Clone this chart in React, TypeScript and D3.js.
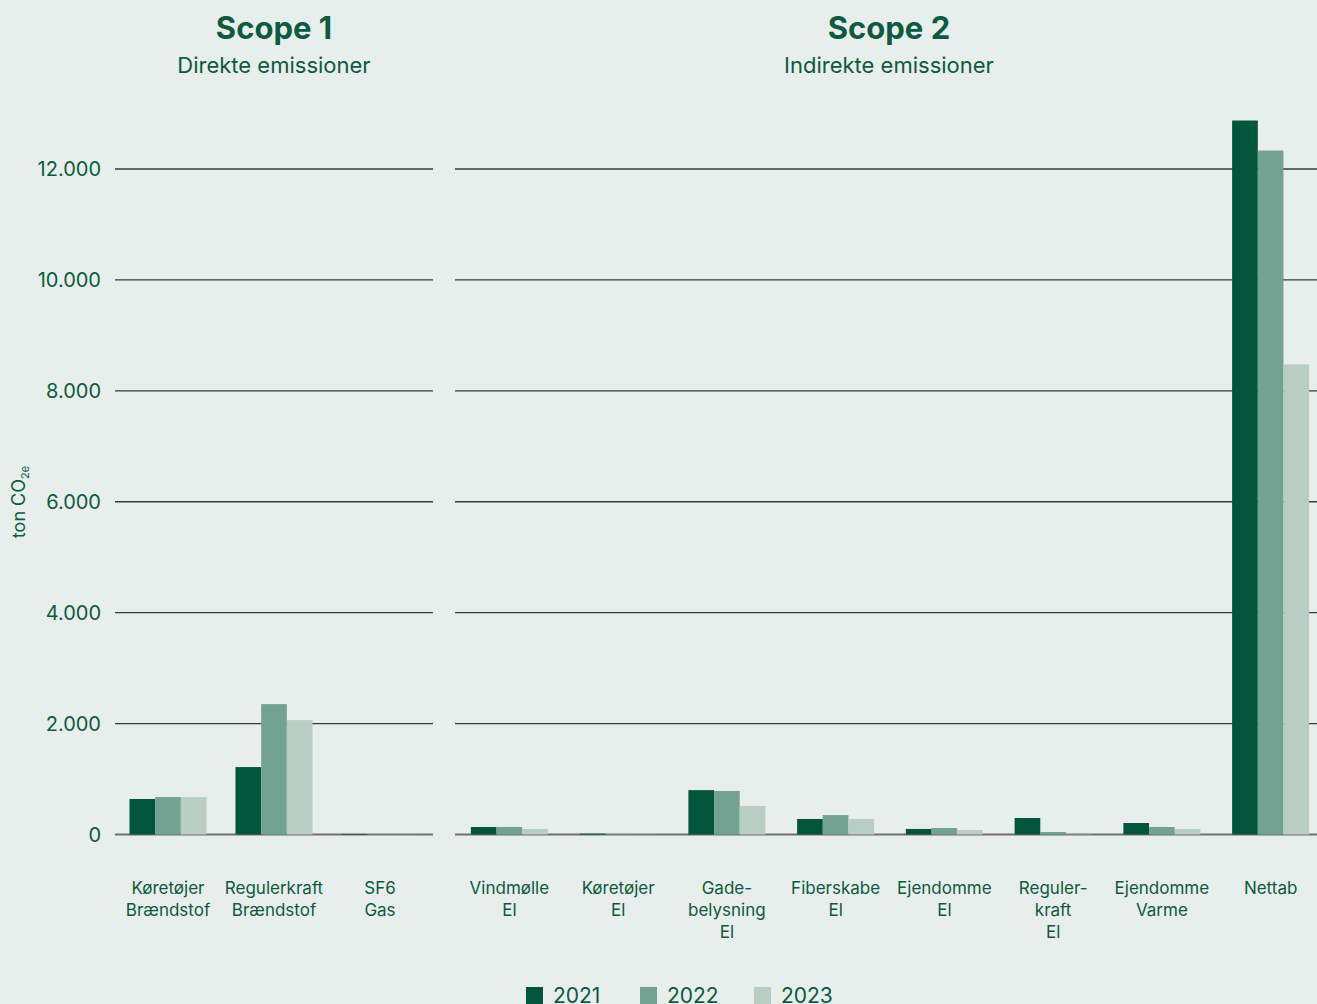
import React from "react";
import * as d3 from "d3";

const years = ["2021", "2022", "2023"];
const scope1Categories = ["Køretøjer|Brændstof", "Regulerkraft|Brændstof", "SF6|Gas"];
const scope1_2021 = [640, 1216, 10];
const scope1_2022 = [675, 2351, 5];
const scope1_2023 = [675, 2063, 2];

const scope2Categories = [
  "Vindmølle|El",
  "Køretøjer|El",
  "Gade-|belysning|El",
  "Fiberskabe|El",
  "Ejendomme|El",
  "Reguler-|kraft|El",
  "Ejendomme|Varme",
  "Nettab",
];
const scope2_2021 = [135, 15, 800, 280, 100, 297, 207, 12874];
const scope2_2022 = [135, 8, 785, 350, 117, 45, 135, 12333];
const scope2_2023 = [100, 3, 515, 280, 80, 5, 100, 8477];

const yTicks = [0, 2000, 4000, 6000, 8000, 10000, 12000];

const W = 1317;
const H = 1004;
const BG = "#E8EEEB";
const TEXT = "#0B5B40";
const colors = ["#00553B", "#72A291", "#B8CEC5"];
const FONT = "Inter, 'Open Sans', sans-serif";

const fmt = d3.formatLocale({ decimal: ",", thousands: ".", grouping: [3], currency: ["", ""] }).format(",d");

const y = d3.scaleLinear().domain([0, 12000]).range([834.5, 169]);

function Panel({ cats, series, range, gridRange }: { cats: string[]; series: number[][]; range: [number, number]; gridRange: [number, number] }) {
  const x0 = d3.scaleBand().domain(cats).range(range).padding(0);
  const bw = x0.bandwidth();
  const groupW = 77;
  const x1 = d3.scaleBand().domain(years).range([(bw - groupW) / 2, (bw + groupW) / 2]).padding(0);
  return (
    <g>
      {yTicks.map((t) => (
        <line key={t} x1={gridRange[0]} x2={gridRange[1]} y1={y(t)} y2={y(t)} stroke={t === 0 ? "#6f6f6f" : "#3a3a3a"} strokeWidth={t === 0 ? 2 : 1.4} />
      ))}
      {cats.map((c, i) => (
        <g key={c} transform={`translate(${x0(c)},0)`}>
          {years.map((yr, j) => {
            const v = series[j][i];
            return <rect key={yr} x={x1(yr)} width={x1.bandwidth()} y={y(v)} height={y(0) - y(v)} fill={colors[j]} />;
          })}
          <text x={bw / 2} y={894} textAnchor="middle" fill={TEXT} fontSize={17} fontFamily={FONT}>
            {c.split("|").map((ln, k) => (
              <tspan key={k} x={bw / 2} dy={k === 0 ? 0 : 22}>
                {ln}
              </tspan>
            ))}
          </text>
        </g>
      ))}
    </g>
  );
}

export default function App() {
  return (
    <div style={{ position: "fixed", left: 0, top: 0, width: W, height: H, background: BG }}>
      <svg width={W} height={H} style={{ display: "block" }}>
        <rect width={W} height={H} fill={BG} />
        <text x={274} y={39} textAnchor="middle" fill={TEXT} fontSize={31} fontWeight={700} fontFamily={FONT}>Scope 1</text>
        <text x={274} y={73} textAnchor="middle" fill={TEXT} fontSize={22} fontFamily={FONT}>Direkte emissioner</text>
        <text x={889} y={39} textAnchor="middle" fill={TEXT} fontSize={31} fontWeight={700} fontFamily={FONT}>Scope 2</text>
        <text x={889} y={73} textAnchor="middle" fill={TEXT} fontSize={22} fontFamily={FONT}>Indirekte emissioner</text>

        {yTicks.map((t) => (
          <text key={t} x={101} y={y(t)} dy="0.36em" textAnchor="end" fill={TEXT} fontSize={20} fontFamily={FONT}>
            {fmt(t)}
          </text>
        ))}
        <text transform="translate(25,502) rotate(-90)" textAnchor="middle" fill={TEXT} fontSize={18} fontFamily={FONT}>
          ton CO<tspan fontSize={11} dy={4}>2e</tspan>
        </text>

        <Panel cats={scope1Categories} series={[scope1_2021, scope1_2022, scope1_2023]} range={[115, 433]} gridRange={[115, 433]} />
        <Panel cats={scope2Categories} series={[scope2_2021, scope2_2022, scope2_2023]} range={[455, 1325]} gridRange={[455, 1317]} />

        {years.map((yr, j) => (
          <g key={yr} transform={`translate(${526 + j * 114},987)`}>
            <rect width={17} height={17} fill={colors[j]} />
            <text x={27} y={16} fill={TEXT} fontSize={21} fontFamily={FONT}>{yr}</text>
          </g>
        ))}
      </svg>
    </div>
  );
}
